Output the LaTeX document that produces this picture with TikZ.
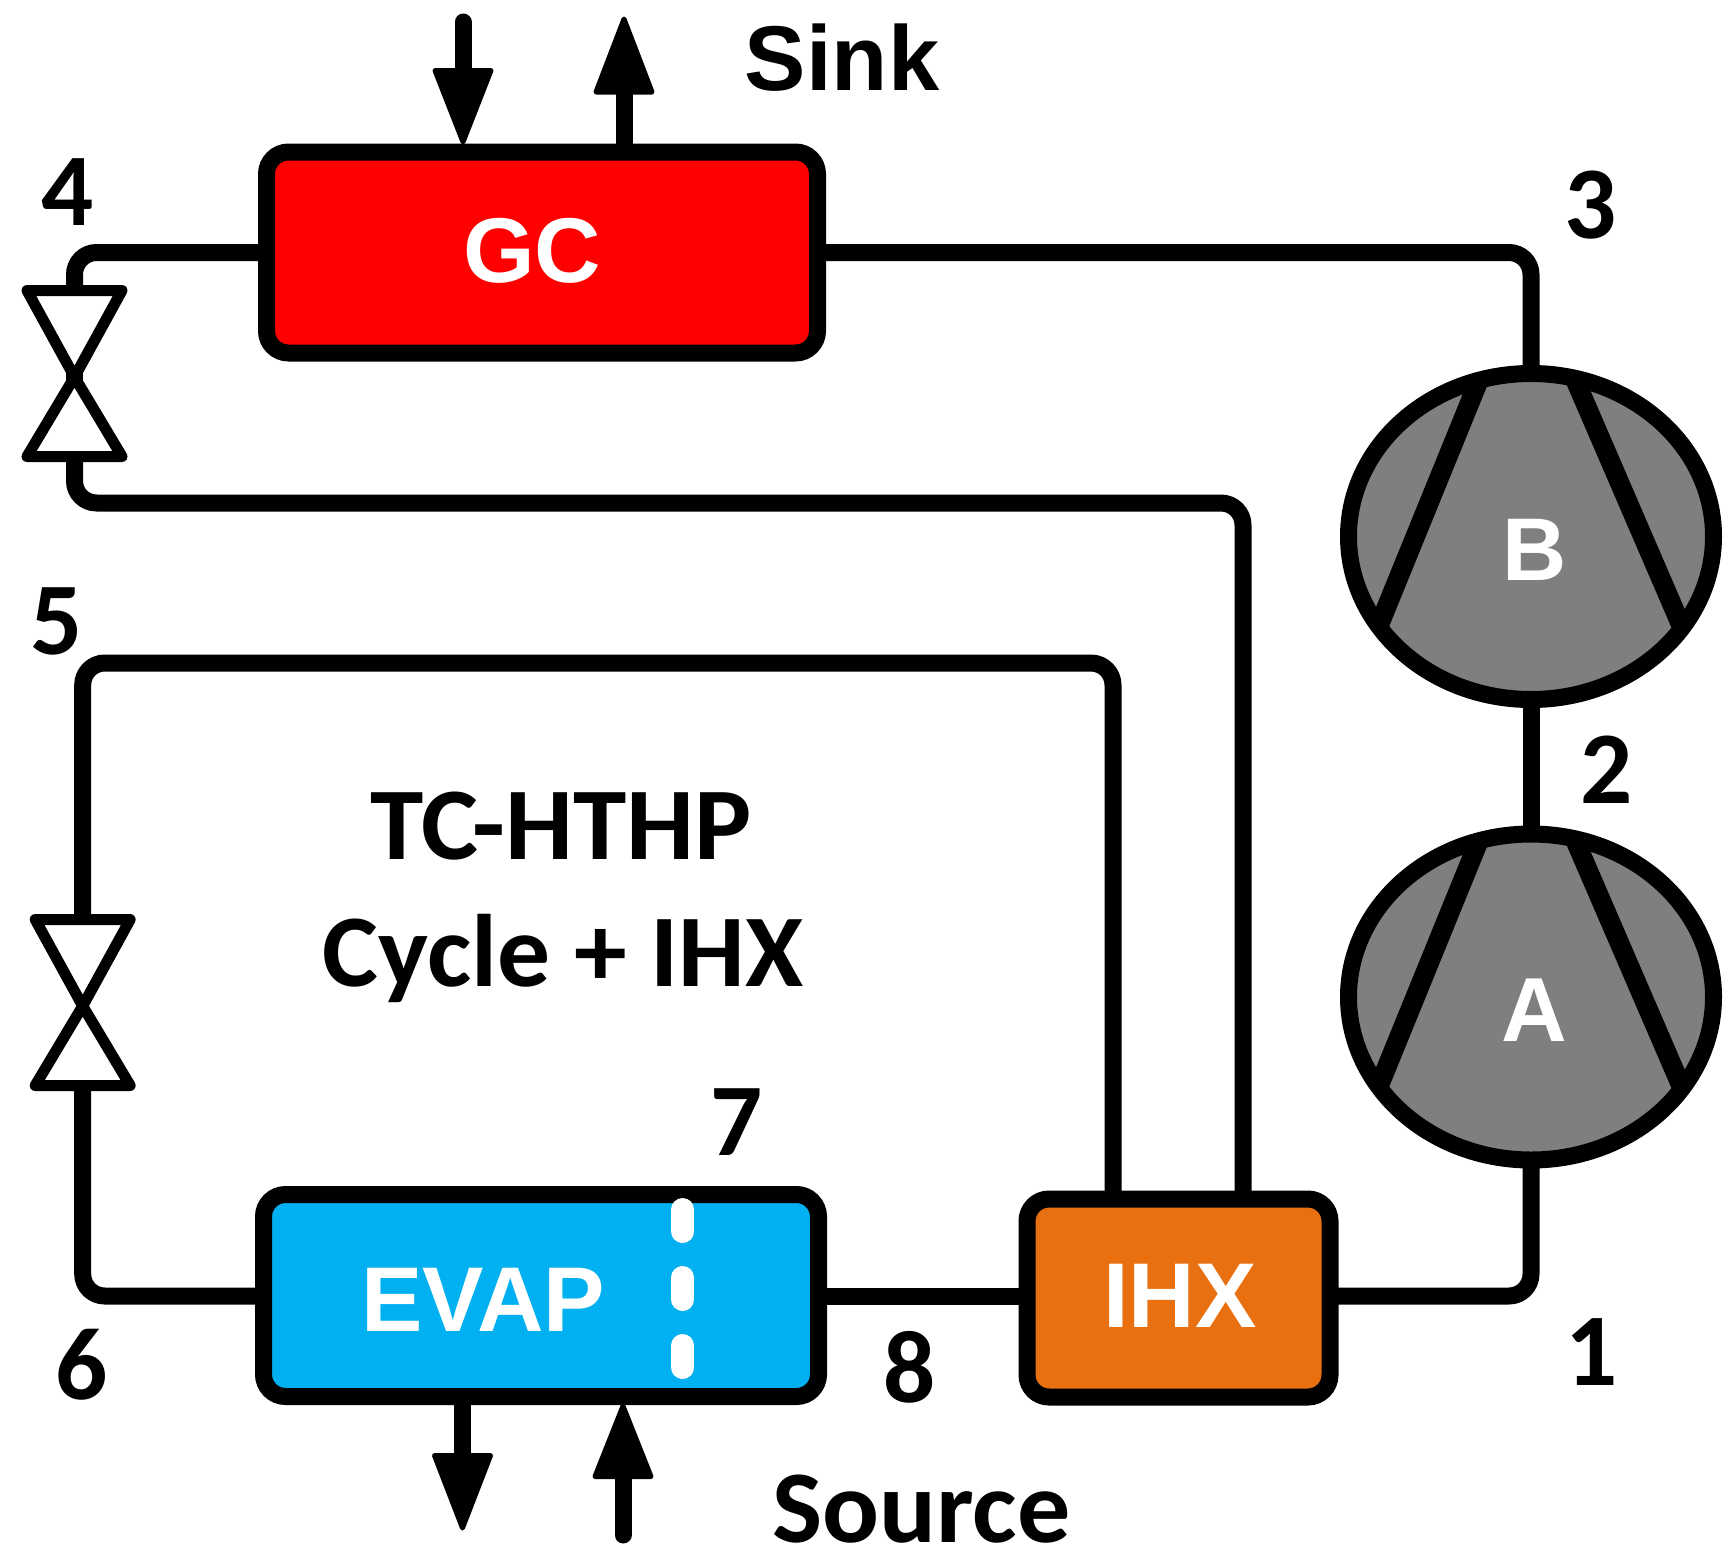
\documentclass[tikz,border=0pt]{standalone}
\usepackage{fontspec}
\usetikzlibrary{shapes.geometric,calc}
\newfontfamily\labelfont[Ligatures=TeX]{Carlito}
\newfontfamily\boxfont{Liberation Sans}
\newcommand{\sizedfont}[1]{\fontsize{#1}{#1}\selectfont\bfseries}
\tikzset{
  x=1pt,y=-1pt,
  pipe/.style={line width=17pt,line join=round,rounded corners=22pt},
  unit/.style={draw=black,line width=17pt,rectangle,rounded corners=22pt,inner sep=0pt,outer sep=0pt},
  comp/.style={draw=black,fill=compgray,line width=17pt,ellipse,inner sep=0pt,outer sep=0pt,minimum width=365pt,minimum height=326pt},
  blade/.style={line width=19.5pt},
  valveline/.style={draw=black,line width=11pt,line join=round},
  head/.style={fill=black,draw=black,line width=5pt,line join=round},
  stem/.style={line width=17pt,line cap=round},
  num/.style={anchor=base,inner sep=0pt,font=\labelfont\sizedfont{103}},
  dashmark/.style={white,line width=23pt,line cap=round},
  boxlabel/.style={anchor=base,inner sep=0pt,text=white,font=\boxfont\sizedfont{#1}}
}
\definecolor{compgray}{HTML}{7F7F7F}
\definecolor{gcred}{HTML}{FF0000}
\definecolor{evapblue}{HTML}{00B0F0}
\definecolor{ihxorange}{HTML}{E97010}
\begin{document}
\begin{tikzpicture}
\useasboundingbox (0,0) rectangle (1724,1550);
% units
\node[unit,fill=gcred,minimum width=551pt,minimum height=201pt] (gc) at (542,252.5) {};
\node[unit,fill=evapblue,minimum width=555pt,minimum height=202pt] (evap) at (541,1295.5) {};
\node[unit,fill=ihxorange,minimum width=303pt,minimum height=198pt] (ihx) at (1178.5,1298) {};
\node[comp] (cb) at (1531,536.5) {};
\node[comp] (ca) at (1531,997) {};
% compressor blades
\draw[blade] ($(cb)+(-52.2,-156)$) -- ($(cb)+(-152,89)$);
\draw[blade] ($(cb)+(44,-157)$) -- ($(cb)+(150.6,90)$);
\draw[blade] ($(ca)+(-52.2,-156)$) -- ($(ca)+(-152,89)$);
\draw[blade] ($(ca)+(44,-157)$) -- ($(ca)+(150.6,90)$);
% valves
\coordinate (v1) at (74.5,377);
\coordinate (v1t) at (74.5,290.5);
\coordinate (v1b) at (74.5,456.5);
\coordinate (v2) at (82.7,1006);
\coordinate (v2t) at (82.7,919.5);
\coordinate (v2b) at (82.7,1085.5);
\draw[valveline] (v1) -- ($(v1t)+(-47.5,0)$) -- ($(v1t)+(47.5,0)$) -- cycle;
\draw[valveline] (v1) -- ($(v1b)+(-47.5,0)$) -- ($(v1b)+(47.5,0)$) -- cycle;
\draw[line width=17pt] ($(v1)+(0,-6)$) -- ($(v1)+(0,6)$);
\draw[valveline] (v2) -- ($(v2t)+(-47.5,0)$) -- ($(v2t)+(47.5,0)$) -- cycle;
\draw[valveline] (v2) -- ($(v2b)+(-47.5,0)$) -- ($(v2b)+(47.5,0)$) -- cycle;
% pipes
\draw[pipe] (gc.east) -- (cb.north |- gc.east) -- (cb.north);
\draw[pipe] (cb.south) -- (ca.north);
\draw[pipe] (gc.west) -- (v1t |- gc.west) -- (v1t);
\draw[pipe] (v1b) -- (74.5,503) -- (1243,503) -- (1243,1199);
\draw[pipe] (v2t) -- (82.7,663) -- (1113,663) -- (1113,1199);
\draw[pipe] (v2b) -- (82.7,1296) -- (evap.west |- 0,1296);
\draw[pipe] (evap.east |- 0,1296) -- (ihx.west |- 0,1296);
\draw[pipe] (ihx.east |- 0,1296) -- (ca.south |- 0,1296) -- (ca.south);
% arrows
\coordinate (sinkin) at (463,22);
\coordinate (sinkout) at (624,146);
\coordinate (sourcein) at (623,1535);
\coordinate (sourceout) at (462.5,1405);
\draw[stem] (sinkin) -- (463,80);
\draw[head] (435,70.5) -- (491,70.5) -- (463,142) -- cycle;
\draw[stem] (sinkout) -- (624,90);
\draw[head] (596,92) -- (652,92) -- (624,19) -- cycle;
\draw[stem] (sourceout) -- (462.5,1460);
\draw[head] (434.5,1455.5) -- (490.5,1455.5) -- (462.5,1528) -- cycle;
\draw[stem] (sourcein) -- (623,1470);
\draw[head] (595,1476.5) -- (651,1476.5) -- (623,1406) -- cycle;
% white dashes
\draw[dashmark] (682.7,1209.5) -- (682.7,1231.5);
\draw[dashmark] (682.7,1277.5) -- (682.7,1299.5);
\draw[dashmark] (682.7,1345.5) -- (682.7,1367.5);
% box labels
\node[boxlabel=92] (gctext) at (532,282) {GC};
\node[boxlabel=92] (evaptext) at (483,1331) {EVAP};
\node[boxlabel=92] (ihxtext) at (1180,1327) {IHX};
\node[boxlabel=89] (btext) at (1535,580) {B};
\node[boxlabel=91] (atext) at (1534,1041) {A};
% numbers and captions
\node[num] (n4) at (68,225) {4};
\node[num] (n3) at (1591,238) {3};
\node[num] (n5) at (57,654) {5};
\node[num] (n2) at (1607,803.5) {2};
\node[num] (n7) at (737,1155) {7};
\node[num] (n6) at (82,1399.5) {6};
\node[num] (n8) at (910,1402) {8};
\node[num] (n1) at (1592,1385) {1};
\node[anchor=base,inner sep=0pt,font=\boxfont\sizedfont{92}] (sink) at (842,90) {Sink};
\node[num] (source) at (921.5,1542) {\scalebox{1.03}[1]{Source}};
\node[num] (title1) at (561.5,859) {\scalebox{1.045}[1]{TC-HTHP}};
\node[num] (title2) at (563,986) {\scalebox{1.025}[1]{Cycle + IHX}};
\end{tikzpicture}
\end{document}
